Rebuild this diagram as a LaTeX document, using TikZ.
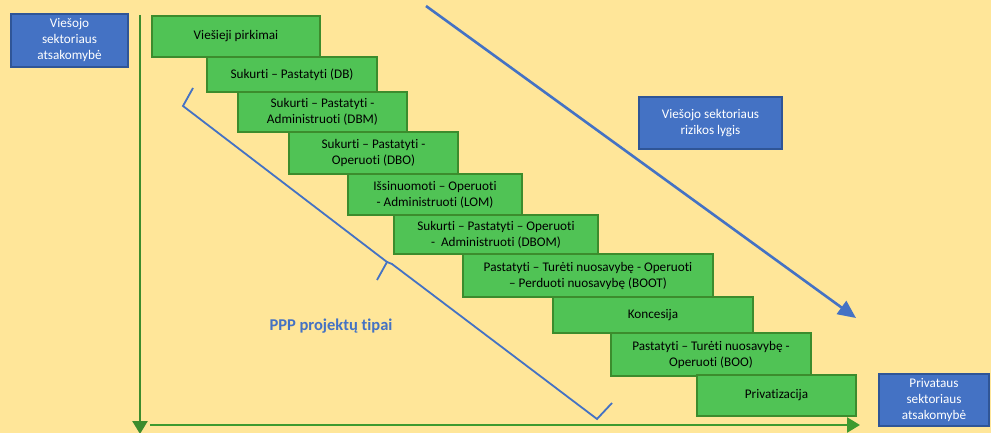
\documentclass[tikz,border=0pt]{standalone}
\usepackage{fontspec}
\setmainfont{Carlito}[Ligatures=NoCommon]
\usetikzlibrary{arrows.meta}
\definecolor{bg}{HTML}{FFE699}
\definecolor{gfill}{HTML}{50C355}
\definecolor{gline}{HTML}{3C8C2D}
\definecolor{axis}{HTML}{3E9A30}
\definecolor{bfill}{HTML}{4472C4}
\definecolor{bline}{HTML}{2F5597}
\tikzset{
  gbox/.style={draw=gline, fill=gfill, line width=2.5pt, inner sep=0pt, align=center,
    font=\fontsize{13.2}{16}\selectfont, text=black},
  bbox/.style={draw=bline, fill=bfill, line width=2pt, inner sep=0pt, align=center,
    font=\fontsize{13.2}{16}\selectfont, text=white},
  axisline/.style={draw=axis, line width=2.6pt},
  bluearrow/.style={draw=bfill, line width=2.6pt, -{Triangle[width=16pt,length=18pt]}},
  bracestyle/.style={draw=bfill, line width=1.8pt, line join=miter},
}
\begin{document}
\begin{tikzpicture}[x=1pt,y=-1pt]
\fill[bg] (0,0) rectangle (991,433);
\useasboundingbox (0,0) rectangle (991,433);

% axes
\coordinate (vtop) at (140,15);
\coordinate (vbot) at (140,434);
\coordinate (hleft) at (150,425);
\coordinate (hright) at (860,425);
\draw[axisline, draw=gline, -{Triangle[width=15pt,length=13pt]}] (vtop) -- (vbot);
\draw[axisline, -{Triangle[width=15pt,length=13pt]}] (hleft) -- (hright);

% blue diagonal arrow
\coordinate (dstart) at (426,6);
\coordinate (dend) at (856,318);
\draw[bluearrow] (dstart) -- (dend);

% brace
\coordinate (b1) at (193,88);
\coordinate (b2) at (183,106);
\coordinate (b3) at (387,262);
\coordinate (b4) at (392,264);
\coordinate (b5) at (597,419);
\coordinate (b6) at (612,403);
\coordinate (btip) at (377,280);
\draw[bracestyle] (b1) -- (b2) -- (b3) -- (btip);
\draw[bracestyle] (b3) -- (b4) -- (b5) -- (b6);

% green boxes
\node[gbox, minimum width=168pt, minimum height=41pt] (n1) at (236,36.5) {Viešieji pirkimai};
\node[gbox, minimum width=170pt, minimum height=35pt] (n2) at (292,74.5) {Sukurti – Pastatyti (DB)};
\node[gbox, minimum width=169pt, minimum height=40pt] (n3) at (322.5,112) {Sukurti – Pastatyti -\\Administruoti (DBM)};
\node[gbox, minimum width=169pt, minimum height=42pt] (n4) at (373.5,153) {Sukurti – Pastatyti -\\Operuoti (DBO)};
\node[gbox, minimum width=174pt, minimum height=41pt] (n5) at (435,194.5) {Išsinuomoti – Operuoti\\- Administruoti (LOM)};
\node[gbox, minimum width=204pt, minimum height=39pt] (n6) at (496,234.5) {Sukurti – Pastatyti – Operuoti\\-\ \ Administruoti (DBOM)};
\node[gbox, minimum width=250pt, minimum height=43pt] (n7) at (588,275.5) {Pastatyti – Turėti nuosavybę - Operuoti\\– Perduoti nuosavybę (BOOT)};
\node[gbox, minimum width=200pt, minimum height=36pt] (n8) at (653,315) {Koncesija};
\node[gbox, minimum width=200pt, minimum height=43pt] (n9) at (711,354.5) {Pastatyti – Turėti nuosavybę -\\Operuoti (BOO)};
\node[gbox, minimum width=159pt, minimum height=41pt] (n10) at (776.5,395.5) {Privatizacija};

% blue boxes
\node[bbox, minimum width=117pt, minimum height=53pt] (pubresp) at (69.5,40.5) {Viešojo\\sektoriaus\\atsakomybė};
\node[bbox, minimum width=143pt, minimum height=52pt] (pubrisk) at (710.5,123) {Viešojo sektoriaus\\rizikos lygis};
\node[bbox, minimum width=110pt, minimum height=52pt] (privresp) at (934,400) {Privataus\\sektoriaus\\atsakomybė};

% label
\node[text=bfill, font=\fontsize{16.5}{19}\selectfont\bfseries] (ppp) at (331,326) {PPP projektų tipai};
\end{tikzpicture}
\end{document}
